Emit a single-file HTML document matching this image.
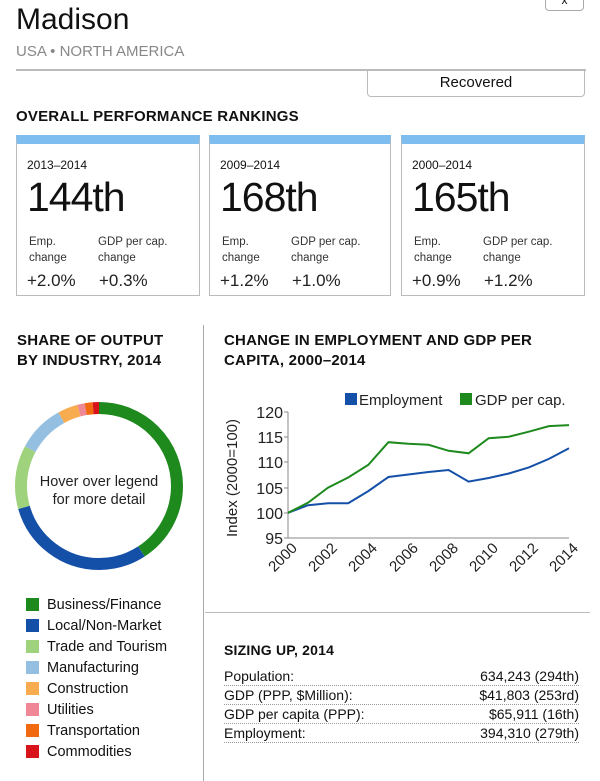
<!DOCTYPE html>
<html><head><meta charset="utf-8"><style>
*{margin:0;padding:0;box-sizing:border-box}
body{width:600px;height:781px;background:#fff;font-family:"Liberation Sans",sans-serif;color:#111;position:relative;overflow:hidden}
.a{position:absolute;white-space:nowrap}
.card{position:absolute;top:135px;height:161px;border:1px solid #bbb;border-top:9px solid #7dbdf0}
.card .d{position:absolute;left:10px;top:14px;font-size:12px}
.card .r{position:absolute;left:10px;top:30px;font-size:41px;letter-spacing:-1px}
.card .l{position:absolute;top:90px;font-size:11.5px;line-height:16px;color:#333}
.card .v{position:absolute;top:127px;font-size:17px;color:#222}
.h{font-size:15px;font-weight:bold;letter-spacing:0.2px}
.lg{position:absolute;left:26px;font-size:14.5px}
.lg i{display:inline-block;width:13px;height:13px;vertical-align:-2px;margin-right:8px}
.row{position:absolute;left:224px;width:355px;font-size:14px;border-bottom:1px dotted #999;height:19px;line-height:18px}
.row span{float:right}
</style></head><body>
<div class="a" style="left:545px;top:-6px;width:39px;height:17px;border:1px solid #aaa;border-radius:4px;font-size:12px;text-align:center;line-height:10px">x</div>
<div class="a" style="left:16px;top:3px;font-size:30px">Madison</div>
<div class="a" style="left:16px;top:43px;font-size:15px;color:#888">USA • NORTH AMERICA</div>
<div class="a" style="left:16px;top:69px;width:570px;border-top:2px solid #bbb"></div>
<div class="a" style="left:367px;top:70px;width:218px;height:27px;border:1px solid #bbb;border-top:none;border-radius:0 0 4px 4px;text-align:center;font-size:15px;line-height:26px">Recovered</div>
<div class="a h" style="left:16px;top:108px">OVERALL PERFORMANCE RANKINGS</div>

<div class="card" style="left:16px;width:184px"><div class="d">2013–2014</div><div class="r">144th</div><div class="l" style="left:12px">Emp.<br>change</div><div class="l" style="left:81px">GDP per cap.<br>change</div><div class="v" style="left:10px">+2.0%</div><div class="v" style="left:82px">+0.3%</div></div>
<div class="card" style="left:209px;width:182px"><div class="d">2009–2014</div><div class="r">168th</div><div class="l" style="left:12px">Emp.<br>change</div><div class="l" style="left:81px">GDP per cap.<br>change</div><div class="v" style="left:10px">+1.2%</div><div class="v" style="left:82px">+1.0%</div></div>
<div class="card" style="left:401px;width:184px"><div class="d">2000–2014</div><div class="r">165th</div><div class="l" style="left:12px">Emp.<br>change</div><div class="l" style="left:81px">GDP per cap.<br>change</div><div class="v" style="left:10px">+0.9%</div><div class="v" style="left:82px">+1.2%</div></div>

<div class="a" style="left:203px;top:325px;height:456px;border-left:1px solid #aaa"></div>
<div class="a" style="left:205px;top:612px;width:385px;border-top:1px solid #bbb"></div>

<div class="a h" style="left:17px;top:331px;line-height:20px">SHARE OF OUTPUT<br>BY INDUSTRY, 2014</div>
<div class="a h" style="left:224px;top:331px;line-height:20px">CHANGE IN EMPLOYMENT AND GDP PER<br>CAPITA, 2000–2014</div>

<svg class="a" style="left:0;top:0" width="600" height="781">
<g transform="rotate(-90 99 486)" fill="none" stroke-width="12">
<circle cx="99" cy="486" r="78" stroke="#1e8a1e" stroke-dasharray="200.1 490.1" stroke-dashoffset="0"/>
<circle cx="99" cy="486" r="78" stroke="#1550a8" stroke-dasharray="145.7 490.1" stroke-dashoffset="-200.1"/>
<circle cx="99" cy="486" r="78" stroke="#9fd27c" stroke-dasharray="59.9 490.1" stroke-dashoffset="-345.8"/>
<circle cx="99" cy="486" r="78" stroke="#94bfe0" stroke-dasharray="44.9 490.1" stroke-dashoffset="-405.7"/>
<circle cx="99" cy="486" r="78" stroke="#f7ac50" stroke-dasharray="19.1 490.1" stroke-dashoffset="-450.6"/>
<circle cx="99" cy="486" r="78" stroke="#f08796" stroke-dasharray="6.8 490.1" stroke-dashoffset="-469.7"/>
<circle cx="99" cy="486" r="78" stroke="#f26a10" stroke-dasharray="7.5 490.1" stroke-dashoffset="-476.5"/>
<circle cx="99" cy="486" r="78" stroke="#d8141a" stroke-dasharray="6.1 490.1" stroke-dashoffset="-484.0"/>
</g>
<text x="99" y="486" font-size="14.5" text-anchor="middle" fill="#222">Hover over legend</text>
<text x="99" y="504" font-size="14.5" text-anchor="middle" fill="#222">for more detail</text>

<g stroke="#888" stroke-width="1">
<line x1="288" y1="412" x2="288" y2="538"/><line x1="288" y1="538" x2="569" y2="538"/>
</g>
<g font-size="16" fill="#222" text-anchor="end">
<text x="283" y="418">120</text><text x="283" y="443">115</text><text x="283" y="468">110</text><text x="283" y="494">105</text><text x="283" y="519">100</text><text x="283" y="544">95</text>
</g>
<g stroke="#888"><line x1="284" y1="412" x2="288" y2="412"/><line x1="284" y1="437" x2="288" y2="437"/><line x1="284" y1="462" x2="288" y2="462"/><line x1="284" y1="488" x2="288" y2="488"/><line x1="284" y1="513" x2="288" y2="513"/><line x1="284" y1="538" x2="288" y2="538"/></g>
<text transform="translate(237 478) rotate(-90)" font-size="15" text-anchor="middle" fill="#222">Index (2000=100)</text>
<g font-size="15" fill="#222" text-anchor="end">
<text transform="translate(298 549) rotate(-45)">2000</text>
<text transform="translate(338 549) rotate(-45)">2002</text>
<text transform="translate(378 549) rotate(-45)">2004</text>
<text transform="translate(419 549) rotate(-45)">2006</text>
<text transform="translate(459 549) rotate(-45)">2008</text>
<text transform="translate(499 549) rotate(-45)">2010</text>
<text transform="translate(539 549) rotate(-45)">2012</text>
<text transform="translate(579 549) rotate(-45)">2014</text>
</g>
<rect x="345" y="393" width="12" height="12" fill="#1550a8"/><text x="359" y="405" font-size="15" fill="#222">Employment</text>
<rect x="460" y="393" width="12" height="12" fill="#1e8a1e"/><text x="475" y="405" font-size="15" fill="#222">GDP per cap.</text>
<polyline fill="none" stroke="#1550a8" stroke-width="2" points="288,512.8 308.1,505.2 328.1,503.2 348.2,503.2 368.3,491.1 388.4,477 408.4,474.5 428.5,472 448.6,470 468.6,481.6 488.7,478 508.8,473.5 528.8,467.4 548.9,458.9 569,448.3"/>
<polyline fill="none" stroke="#1e8a1e" stroke-width="2" points="288,512.8 308.1,502.7 328.1,487.6 348.2,477.5 368.3,464.9 388.4,442.2 408.4,443.8 428.5,444.8 448.6,450.8 468.6,453.3 488.7,438.2 508.8,436.7 528.8,431.7 548.9,426.1 569,425.1"/>
</svg>

<div class="lg" style="top:597px"><i style="background:#1e8a1e"></i>Business/Finance</div>
<div class="lg" style="top:618px"><i style="background:#1550a8"></i>Local/Non-Market</div>
<div class="lg" style="top:639px"><i style="background:#9fd27c"></i>Trade and Tourism</div>
<div class="lg" style="top:660px"><i style="background:#94bfe0"></i>Manufacturing</div>
<div class="lg" style="top:681px"><i style="background:#f7ac50"></i>Construction</div>
<div class="lg" style="top:702px"><i style="background:#f08796"></i>Utilities</div>
<div class="lg" style="top:723px"><i style="background:#f26a10"></i>Transportation</div>
<div class="lg" style="top:744px"><i style="background:#d8141a"></i>Commodities</div>

<div class="a h" style="left:224px;top:642px;font-size:14px">SIZING UP, 2014</div>
<div class="row" style="top:667px">Population:<span>634,243 (294th)</span></div>
<div class="row" style="top:686px">GDP (PPP, $Million):<span>$41,803 (253rd)</span></div>
<div class="row" style="top:705px">GDP per capita (PPP):<span>$65,911 (16th)</span></div>
<div class="row" style="top:724px">Employment:<span>394,310 (279th)</span></div>
</body></html>
